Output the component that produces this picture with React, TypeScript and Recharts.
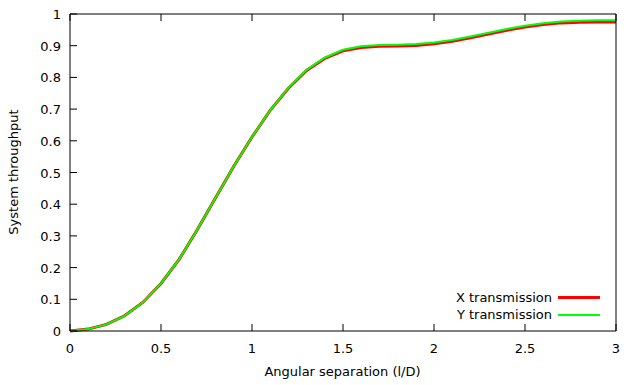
import { LineChart, Line, XAxis, YAxis } from 'recharts'

document.body.style.margin = '0'

const FONT = '"DejaVu Sans", sans-serif'

const separation = [
  0, 0.1, 0.2, 0.3, 0.4, 0.5, 0.6, 0.7, 0.8, 0.9, 1.0,
  1.1, 1.2, 1.3, 1.4, 1.5, 1.6, 1.7, 1.8, 1.9, 2.0,
  2.1, 2.2, 2.3, 2.4, 2.5, 2.6, 2.7, 2.8, 2.9, 3.0,
]
const xTransmission = [
  0.0, 0.006, 0.021, 0.048, 0.09, 0.15, 0.226, 0.32, 0.42, 0.52, 0.612,
  0.696, 0.766, 0.822, 0.86, 0.884, 0.894, 0.898, 0.899, 0.901, 0.906,
  0.914, 0.925, 0.937, 0.949, 0.959, 0.967, 0.972, 0.974, 0.975, 0.975,
]
const yTransmission = [
  0.0, 0.006, 0.021, 0.048, 0.09, 0.15, 0.226, 0.32, 0.42, 0.52, 0.612,
  0.696, 0.767, 0.824, 0.862, 0.887, 0.898, 0.902, 0.903, 0.905, 0.91,
  0.918, 0.929, 0.941, 0.953, 0.963, 0.971, 0.976, 0.979, 0.98, 0.98,
]
const xTicks = [0, 0.5, 1, 1.5, 2, 2.5, 3]
const yTicks = [0, 0.1, 0.2, 0.3, 0.4, 0.5, 0.6, 0.7, 0.8, 0.9, 1]

const data = separation.map((s, i) => ({
  s,
  x: xTransmission[i],
  y: yTransmission[i],
}))

const TICK = 7
const FS = 13

function BottomTick(props: any) {
  const { x, y, payload } = props
  return (
    <g>
      <line x1={x} x2={x} y1={y} y2={y - TICK} stroke="#000" />
      <text x={x} y={y + 22} textAnchor="middle" fontSize={FS} fontFamily={FONT} fill="#000">
        {payload.value}
      </text>
    </g>
  )
}

function TopTick(props: any) {
  const { x, y } = props
  return <line x1={x} x2={x} y1={y} y2={y + TICK} stroke="#000" />
}

function LeftTick(props: any) {
  const { x, y, payload } = props
  return (
    <g>
      <line x1={x} x2={x + TICK} y1={y} y2={y} stroke="#000" />
      <text x={x - 9} y={y + 5} textAnchor="end" fontSize={FS} fontFamily={FONT} fill="#000">
        {payload.value}
      </text>
    </g>
  )
}

function RightTick(props: any) {
  const { x, y } = props
  return <line x1={x} x2={x - TICK} y1={y} y2={y} stroke="#000" />
}

const legendRows = [
  { label: 'X transmission', color: '#ff0000', width: 3 },
  { label: 'Y transmission', color: '#00ff00', width: 2 },
]

export default function App() {
  return (
    <div style={{ position: 'relative', width: 636, height: 385, background: '#fff' }}>
      <LineChart
        width={636}
        height={385}
        data={data}
        margin={{ top: 13, right: 19, bottom: 24, left: 10 }}
      >
        <XAxis
          xAxisId="b"
          dataKey="s"
          type="number"
          domain={[0, 3]}
          ticks={xTicks}
          tick={<BottomTick />}
          tickLine={false}
          tickSize={0}
          tickMargin={0}
          height={30}
          axisLine={{ stroke: '#000' }}
        />
        <XAxis
          xAxisId="t"
          orientation="top"
          dataKey="s"
          type="number"
          domain={[0, 3]}
          ticks={xTicks}
          tick={<TopTick />}
          tickLine={false}
          tickSize={0}
          tickMargin={0}
          height={1}
          axisLine={{ stroke: '#000' }}
        />
        <YAxis
          yAxisId="l"
          type="number"
          domain={[0, 1]}
          ticks={yTicks}
          tick={<LeftTick />}
          tickLine={false}
          tickSize={0}
          tickMargin={0}
          width={60}
          axisLine={{ stroke: '#000' }}
        />
        <YAxis
          yAxisId="r"
          orientation="right"
          type="number"
          domain={[0, 1]}
          ticks={yTicks}
          tick={<RightTick />}
          tickLine={false}
          tickSize={0}
          tickMargin={0}
          width={1}
          axisLine={{ stroke: '#000' }}
        />
        <Line
          xAxisId="b"
          yAxisId="l"
          dataKey="x"
          stroke="#ff0000"
          strokeWidth={3}
          dot={false}
          isAnimationActive={false}
        />
        <Line
          xAxisId="b"
          yAxisId="l"
          dataKey="y"
          stroke="#00ff00"
          strokeWidth={2}
          dot={false}
          isAnimationActive={false}
        />
      </LineChart>
      <div
        style={{
          position: 'absolute',
          left: 380,
          top: 289,
          width: 220,
          fontFamily: FONT,
          fontSize: FS,
          color: '#000',
        }}
      >
        {legendRows.map((r) => (
          <div
            key={r.label}
            style={{ display: 'flex', alignItems: 'center', justifyContent: 'flex-end', height: 17 }}
          >
            <span style={{ marginRight: 6 }}>{r.label}</span>
            <span style={{ display: 'inline-block', width: 42, height: r.width, background: r.color }} />
          </div>
        ))}
      </div>
      <div
        style={{
          position: 'absolute',
          left: 70,
          top: 364,
          width: 545,
          textAlign: 'center',
          fontFamily: FONT,
          fontSize: FS,
        }}
      >
        Angular separation (l/D)
      </div>
      <div
        style={{
          position: 'absolute',
          left: 13,
          top: 172,
          transform: 'translate(-50%, -50%) rotate(-90deg)',
          whiteSpace: 'nowrap',
          fontFamily: FONT,
          fontSize: FS,
        }}
      >
        System throughput
      </div>
    </div>
  )
}
